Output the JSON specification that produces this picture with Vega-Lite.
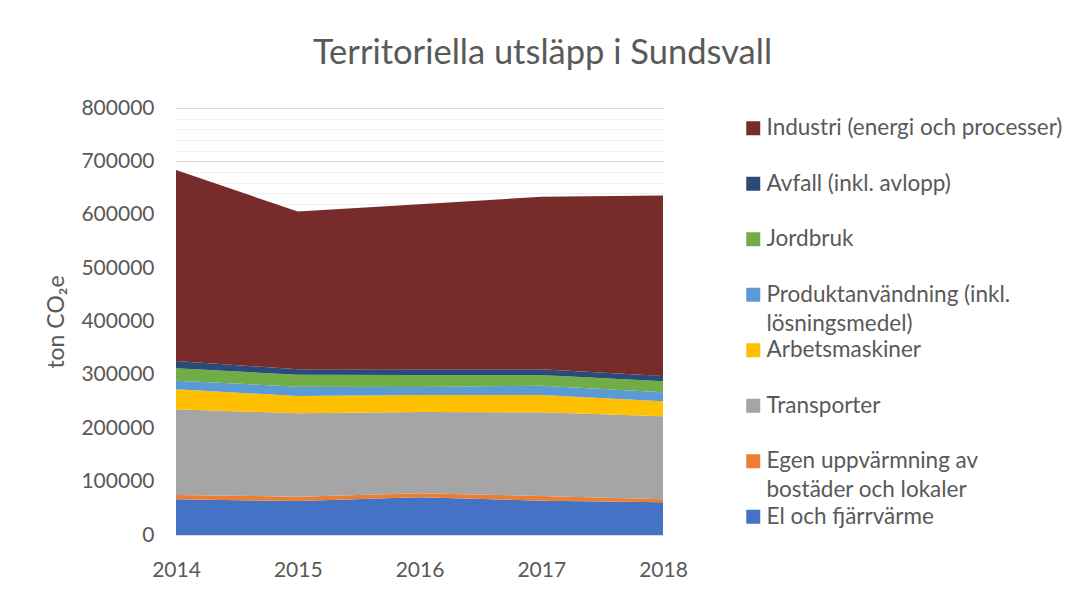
{
  "$schema": "https://vega.github.io/schema/vega-lite/v6.json",
  "width": 487,
  "height": 427,
  "autosize": {"type": "none"},
  "padding": {"left": 176, "top": 108, "right": 403, "bottom": 57},
  "background": "white",
  "config": {"font": "Lato", "view": {"stroke": null}},
  "title": {
    "text": "Territoriella utsläpp i Sundsvall",
    "fontSize": 34.5,
    "font": "Lato",
    "fontWeight": "normal",
    "color": "#595959",
    "anchor": "middle",
    "frame": "group",
    "dx": 123,
    "offset": 26
  },
  "data": {
    "values": [
      {"year": 2014, "series": "El och fjärrvärme", "rank": 1, "value": 66900},
      {"year": 2015, "series": "El och fjärrvärme", "rank": 1, "value": 63700},
      {"year": 2016, "series": "El och fjärrvärme", "rank": 1, "value": 70600},
      {"year": 2017, "series": "El och fjärrvärme", "rank": 1, "value": 64300},
      {"year": 2018, "series": "El och fjärrvärme", "rank": 1, "value": 61200},
      {"year": 2014, "series": "Egen uppvärmning av bostäder och lokaler", "rank": 2, "value": 8000},
      {"year": 2015, "series": "Egen uppvärmning av bostäder och lokaler", "rank": 2, "value": 8100},
      {"year": 2016, "series": "Egen uppvärmning av bostäder och lokaler", "rank": 2, "value": 7500},
      {"year": 2017, "series": "Egen uppvärmning av bostäder och lokaler", "rank": 2, "value": 8800},
      {"year": 2018, "series": "Egen uppvärmning av bostäder och lokaler", "rank": 2, "value": 5600},
      {"year": 2014, "series": "Transporter", "rank": 3, "value": 160600},
      {"year": 2015, "series": "Transporter", "rank": 3, "value": 156200},
      {"year": 2016, "series": "Transporter", "rank": 3, "value": 152300},
      {"year": 2017, "series": "Transporter", "rank": 3, "value": 156700},
      {"year": 2018, "series": "Transporter", "rank": 3, "value": 155500},
      {"year": 2014, "series": "Arbetsmaskiner", "rank": 4, "value": 37500},
      {"year": 2015, "series": "Arbetsmaskiner", "rank": 4, "value": 32400},
      {"year": 2016, "series": "Arbetsmaskiner", "rank": 4, "value": 31900},
      {"year": 2017, "series": "Arbetsmaskiner", "rank": 4, "value": 32500},
      {"year": 2018, "series": "Arbetsmaskiner", "rank": 4, "value": 28100},
      {"year": 2014, "series": "Produktanvändning (inkl. lösningsmedel)", "rank": 5, "value": 16100},
      {"year": 2015, "series": "Produktanvändning (inkl. lösningsmedel)", "rank": 5, "value": 17500},
      {"year": 2016, "series": "Produktanvändning (inkl. lösningsmedel)", "rank": 5, "value": 15000},
      {"year": 2017, "series": "Produktanvändning (inkl. lösningsmedel)", "rank": 5, "value": 17500},
      {"year": 2018, "series": "Produktanvändning (inkl. lösningsmedel)", "rank": 5, "value": 16900},
      {"year": 2014, "series": "Jordbruk", "rank": 6, "value": 23200},
      {"year": 2015, "series": "Jordbruk", "rank": 6, "value": 22500},
      {"year": 2016, "series": "Jordbruk", "rank": 6, "value": 22500},
      {"year": 2017, "series": "Jordbruk", "rank": 6, "value": 20000},
      {"year": 2018, "series": "Jordbruk", "rank": 6, "value": 20600},
      {"year": 2014, "series": "Avfall (inkl. avlopp)", "rank": 7, "value": 13700},
      {"year": 2015, "series": "Avfall (inkl. avlopp)", "rank": 7, "value": 10000},
      {"year": 2016, "series": "Avfall (inkl. avlopp)", "rank": 7, "value": 10600},
      {"year": 2017, "series": "Avfall (inkl. avlopp)", "rank": 7, "value": 10600},
      {"year": 2018, "series": "Avfall (inkl. avlopp)", "rank": 7, "value": 10000},
      {"year": 2014, "series": "Industri (energi och processer)", "rank": 8, "value": 357800},
      {"year": 2015, "series": "Industri (energi och processer)", "rank": 8, "value": 295500},
      {"year": 2016, "series": "Industri (energi och processer)", "rank": 8, "value": 309300},
      {"year": 2017, "series": "Industri (energi och processer)", "rank": 8, "value": 323200},
      {"year": 2018, "series": "Industri (energi och processer)", "rank": 8, "value": 338100}
    ]
  },
  "mark": {"type": "area"},
  "encoding": {
    "x": {
      "field": "year",
      "type": "quantitative",
      "scale": {"domain": [2014, 2018], "nice": false, "zero": false},
      "axis": {
        "title": null,
        "values": [2014, 2015, 2016, 2017, 2018],
        "format": "d",
        "grid": false,
        "ticks": false,
        "tickSize": 0,
        "domainColor": "#d9d9d9",
        "domainWidth": 1,
        "labelPadding": 24,
        "labelFontSize": 21,
        "labelFont": "Lato",
        "labelColor": "#595959",
        "labelFlush": false
      }
    },
    "y": {
      "field": "value",
      "type": "quantitative",
      "stack": "zero",
      "scale": {"domain": [0, 800000], "nice": false},
      "axis": {
        "title": "ton CO₂e",
        "titleFont": "Lato",
        "titleFontSize": 23,
        "titleFontWeight": "normal",
        "titleColor": "#595959",
        "titlePadding": 12,
        "values": [0, 20000, 40000, 60000, 80000, 100000, 120000, 140000, 160000, 180000, 200000, 220000, 240000, 260000, 280000, 300000, 320000, 340000, 360000, 380000, 400000, 420000, 440000, 460000, 480000, 500000, 520000, 540000, 560000, 580000, 600000, 620000, 640000, 660000, 680000, 700000, 720000, 740000, 760000, 780000, 800000],
        "labelExpr": "datum.value % 100000 === 0 ? format(datum.value, 'd') : ''",
        "labelOverlap": false,
        "labelFlush": false,
        "domain": false,
        "ticks": false,
        "tickSize": 0,
        "labelPadding": 22,
        "labelFontSize": 21,
        "labelFont": "Lato",
        "labelColor": "#595959",
        "grid": true,
        "gridColor": {"condition": {"test": "datum.value % 100000 === 0", "value": "#d9d9d9"}, "value": "#efefef"},
        "gridWidth": 1
      }
    },
    "color": {
      "field": "series",
      "type": "nominal",
      "scale": {
        "domain": ["Industri (energi och processer)", "Avfall (inkl. avlopp)", "Jordbruk", "Produktanvändning (inkl. lösningsmedel)", "Arbetsmaskiner", "Transporter", "Egen uppvärmning av bostäder och lokaler", "El och fjärrvärme"],
        "range": ["#772C2B", "#2A4A78", "#70AD47", "#5B9BD5", "#FFC000", "#A5A5A5", "#ED7D31", "#4472C4"]
      },
      "legend": {
        "orient": "none",
        "legendX": 566,
        "legendY": 9,
        "title": null,
        "padding": 0,
        "symbolType": "square",
        "symbolSize": 196,
        "symbolStrokeWidth": 0,
        "symbolOpacity": 1,
        "labelFont": "Lato",
        "labelFontSize": 22.5,
        "labelColor": "#595959",
        "labelOffset": 2,
        "labelLimit": 400,
        "gridAlign": "all",
        "rowPadding": 3.5,
        "labelExpr": "datum.label === 'Produktanvändning (inkl. lösningsmedel)' ? ['Produktanvändning (inkl.', 'lösningsmedel)'] : datum.label === 'Egen uppvärmning av bostäder och lokaler' ? ['Egen uppvärmning av', 'bostäder och lokaler'] : datum.label",
        "encode": {"labels": {"update": {"lineHeight": {"value": 29}}}}
      }
    },
    "order": {"field": "rank", "type": "quantitative", "sort": "ascending"}
  }
}
